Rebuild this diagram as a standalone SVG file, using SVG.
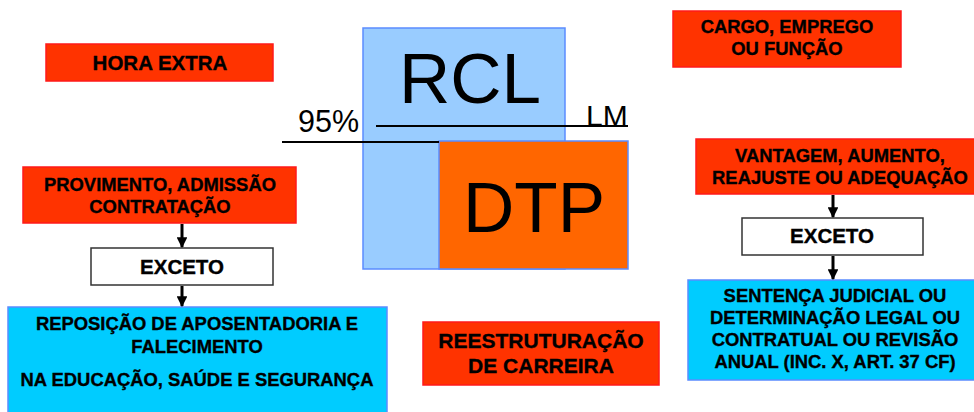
<svg xmlns="http://www.w3.org/2000/svg" width="974" height="412" viewBox="0 0 974 412">
<defs>
<style>
.red{fill:#FF3300;stroke:#FF1A1A;stroke-width:1.5}
.cyan{fill:#00CCFF;stroke:#5B8CFF;stroke-width:1.5}
.wht{fill:#FFFFFF;stroke:#333333;stroke-width:1.5}
.t{font-family:"Liberation Sans",Arial,sans-serif;font-weight:bold;font-size:18.4px;fill:#000;stroke:#000;stroke-width:0.35;text-anchor:middle}
.big{font-family:"Liberation Sans",Arial,sans-serif;fill:#000}
.conn{stroke:#000;stroke-width:3;fill:none}
</style>
<marker id="ah" viewBox="0 0 10 10" refX="9" refY="5" markerWidth="3.6" markerHeight="3.6" markerUnits="strokeWidth" orient="auto">
<path d="M0,0 L10,5 L0,10 Z" fill="#000"/>
</marker>
</defs>
<rect width="974" height="412" fill="#FFFFFF"/>

<g id="rcl">
<rect x="363" y="28" width="202" height="241" fill="#99CCFF" stroke="#5B8CFF" stroke-width="1.5"/>
<text class="big" x="470" y="103" font-size="71" text-anchor="middle">RCL</text>
</g>
<g id="dtp">
<rect x="439" y="141" width="189" height="128" fill="#FF6600" stroke="#5B8CFF" stroke-width="1.5"/>
<text class="big" x="534" y="232" font-size="71" text-anchor="middle">DTP</text>
</g>
<g id="limits">
<line x1="376" y1="126" x2="628" y2="126" stroke="#000" stroke-width="2"/>
<line x1="282" y1="142" x2="439" y2="142" stroke="#000" stroke-width="2"/>
<text class="big" x="298" y="132" font-size="30.5">95%</text>
<text class="big" x="586" y="126" font-size="30">LM</text>
</g>

<g id="hora-extra">
<rect class="red" x="46" y="44" width="227" height="37"/>
<text class="t" x="160" y="70" style="font-size:20.5px">HORA EXTRA</text>
</g>
<g id="cargo">
<rect class="red" x="673" y="11" width="228" height="56"/>
<text class="t" x="787" y="33">CARGO, EMPREGO</text>
<text class="t" x="787" y="55">OU FUNÇÃO</text>
</g>
<g id="provimento">
<rect class="red" x="23" y="167" width="273" height="56"/>
<text class="t" x="160" y="191">PROVIMENTO, ADMISSÃO</text>
<text class="t" x="160" y="213">CONTRATAÇÃO</text>
</g>
<g id="exceto-left">
<rect class="wht" x="91" y="248" width="182" height="37"/>
<text class="t" x="182" y="274" style="font-size:20.5px">EXCETO</text>
</g>
<g id="reposicao">
<rect class="cyan" x="8" y="307" width="379" height="110"/>
<text class="t" x="197" y="330">REPOSIÇÃO DE APOSENTADORIA E</text>
<text class="t" x="197" y="353">FALECIMENTO</text>
<text class="t" x="197" y="386">NA EDUCAÇÃO, SAÚDE E SEGURANÇA</text>
</g>
<g id="reestruturacao">
<rect class="red" x="423" y="322" width="236" height="63"/>
<text class="t" x="541" y="348" style="font-size:21px">REESTRUTURAÇÃO</text>
<text class="t" x="541" y="373" style="font-size:21px">DE CARREIRA</text>
</g>
<g id="vantagem">
<rect class="red" x="696" y="139" width="280" height="55"/>
<text class="t" x="840" y="162">VANTAGEM, AUMENTO,</text>
<text class="t" x="840" y="184">REAJUSTE OU ADEQUAÇÃO</text>
</g>
<g id="exceto-right">
<rect class="wht" x="742" y="218" width="181" height="37"/>
<text class="t" x="832" y="243" style="font-size:20.5px">EXCETO</text>
</g>
<g id="sentenca">
<rect class="cyan" x="688" y="280" width="290" height="100"/>
<text class="t" x="835" y="302">SENTENÇA JUDICIAL OU</text>
<text class="t" x="835" y="324">DETERMINAÇÃO LEGAL OU</text>
<text class="t" x="835" y="346">CONTRATUAL OU REVISÃO</text>
<text class="t" x="835" y="368">ANUAL (INC. X, ART. 37 CF)</text>
</g>

<g id="connectors">
<line class="conn" x1="182" y1="224" x2="182" y2="247" marker-end="url(#ah)"/>
<line class="conn" x1="182" y1="286" x2="182" y2="306" marker-end="url(#ah)"/>
<line class="conn" x1="833" y1="195" x2="833" y2="217" marker-end="url(#ah)"/>
<line class="conn" x1="833" y1="256" x2="833" y2="279" marker-end="url(#ah)"/>
</g>
</svg>
